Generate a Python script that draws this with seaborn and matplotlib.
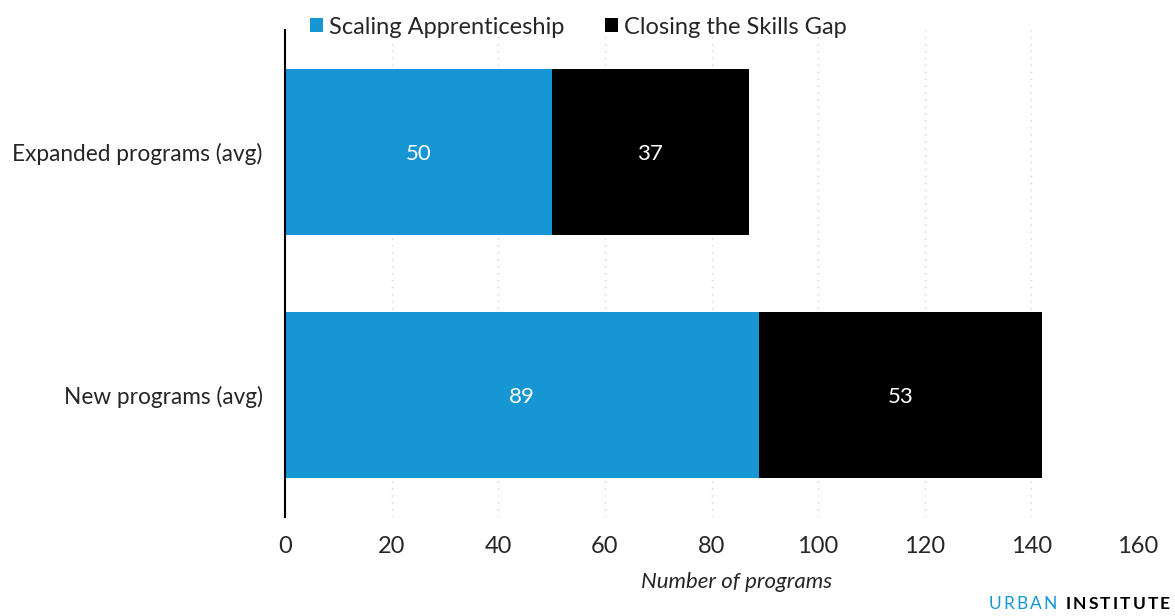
import matplotlib
matplotlib.use("Agg")
import matplotlib.pyplot as plt
import seaborn as sns
import pandas as pd
from matplotlib.patches import Patch

categories = ["Expanded programs (avg)", "New programs (avg)"]
scaling = [50, 89]
closing = [37, 53]
series_names = ["Scaling Apprenticeship", "Closing the Skills Gap"]
x_ticks = [0, 20, 40, 60, 80, 100, 120, 140, 160]

BLUE = "#1696d2"
BLACK = "#000000"

sns.set_theme(style="white")
plt.rcParams["font.family"] = ["Lato", "DejaVu Sans"]

df = pd.DataFrame({
    "category": categories,
    "scaling": scaling,
    "closing": closing,
})
df["total"] = df["scaling"] + df["closing"]

fig = plt.figure(figsize=(11.75, 6.16), dpi=100)
ax = fig.add_axes([285 / 1175, 1 - 517 / 616, 853 / 1175, 487 / 616])

# Stacked bars: draw the totals in black, then the first segment on top
sns.barplot(data=df, y="category", x="total", color=BLACK, width=0.68,
            saturation=1, ax=ax, orient="h", linewidth=0)
sns.barplot(data=df, y="category", x="scaling", color=BLUE, width=0.68,
            saturation=1, ax=ax, orient="h", linewidth=0)

for i, row in df.iterrows():
    ax.text(row["scaling"] / 2, i, f"{row['scaling']:.0f}", ha="center",
            va="center_baseline", color="white", fontsize=16)
    ax.text(row["scaling"] + row["closing"] / 2, i, f"{row['closing']:.0f}",
            ha="center", va="center_baseline", color="white", fontsize=16)

ax.set_xlim(0, 160)
ax.set_ylim(1.5, -0.5)
ax.set_xticks(x_ticks)
ax.set_xticklabels([str(t) for t in x_ticks], fontsize=17)
ax.tick_params(axis="x", length=0, pad=14)
ax.tick_params(axis="y", length=0, pad=16, labelsize=16.3)
ax.set_ylabel("")
ax.set_xlabel("Number of programs", fontsize=16, style="italic")
ax.xaxis.set_label_coords(0.529, -0.113)

# Dotted vertical gridlines, skipping the baseline
for t in x_ticks[1:]:
    ax.axvline(t, color="#cfcfcf", linestyle=(0, (1, 4)), linewidth=1, zorder=0)

for s in ["top", "right", "bottom"]:
    ax.spines[s].set_visible(False)
ax.spines["left"].set_color("black")
ax.spines["left"].set_linewidth(1.5)
ax.set_axisbelow(True)

handles = [Patch(facecolor=BLUE, edgecolor="none"),
           Patch(facecolor=BLACK, edgecolor="none")]
fig.legend(handles, series_names, loc="center left",
           bbox_to_anchor=(310 / 1175, 1 - 27 / 616), ncol=2, frameon=False,
           fontsize=17, handlelength=0.55, handleheight=0.55, handletextpad=0.25,
           columnspacing=1.74, borderaxespad=0, borderpad=0)

# Letter-spaced wordmark, laid out glyph by glyph from the right edge
fig.canvas.draw()
renderer = fig.canvas.get_renderer()
mark_y = 1 - 604 / 616
tracking = 2.2  # extra pixels between letters
x_px = 1170.0
pieces = [("INSTITUTE", "bold", "black"), (" ", "normal", BLUE), ("URBAN", "normal", BLUE)]
for word, weight, color in pieces:
    for ch in reversed(word):
        t = fig.text(x_px / 1175, mark_y, ch, ha="right", va="center",
                     fontsize=12.5, fontweight=weight, color=color)
        w = t.get_window_extent(renderer).width if ch != " " else 4
        x_px -= w + tracking

fig.savefig("out.png", dpi=100)
